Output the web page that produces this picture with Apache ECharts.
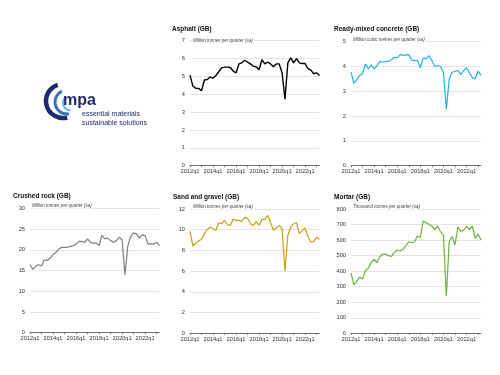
<!DOCTYPE html>
<html>
<head>
<meta charset="utf-8">
<script src="https://cdn.jsdelivr.net/npm/echarts@6/dist/echarts.min.js"></script>
<style>
  html, body { margin: 0; padding: 0; background: #fff; }
  #chart-container { width: 500px; height: 375px; }
</style>
</head>
<body>
<div id="chart-container"></div>
<script>
// quarters 2012q1 .. 2023q2
const quarters = [
  "2012q1", "2012q2", "2012q3", "2012q4", "2013q1", "2013q2", "2013q3", "2013q4",
  "2014q1", "2014q2", "2014q3", "2014q4", "2015q1", "2015q2", "2015q3", "2015q4",
  "2016q1", "2016q2", "2016q3", "2016q4", "2017q1", "2017q2", "2017q3", "2017q4",
  "2018q1", "2018q2", "2018q3", "2018q4", "2019q1", "2019q2", "2019q3", "2019q4",
  "2020q1", "2020q2", "2020q3", "2020q4", "2021q1", "2021q2", "2021q3", "2021q4",
  "2022q1", "2022q2", "2022q3", "2022q4", "2023q1", "2023q2"
];

const asphalt = [
  5.07, 4.46, 4.33, 4.33, 4.2, 4.8, 4.83, 4.96, 4.9, 5.05, 5.26, 5.48,
  5.52, 5.52, 5.5, 5.3, 5.2, 5.7, 5.76, 5.9, 5.8, 5.7, 5.57, 5.54,
  5.37, 5.94, 5.7, 5.8, 5.7, 5.54, 5.7, 5.7, 5.2, 3.72, 5.76, 6.04,
  5.76, 6.0, 5.76, 5.72, 5.72, 5.44, 5.35, 5.15, 5.2, 5.05
];

const readyMixed = [
  3.77, 3.33, 3.47, 3.64, 3.71, 4.1, 3.9, 4.07, 3.9, 4.04, 4.21, 4.17,
  4.21, 4.21, 4.27, 4.37, 4.35, 4.48, 4.45, 4.47, 4.48, 4.27, 4.24, 4.24,
  3.95, 4.35, 4.31, 4.44, 4.24, 4.0, 4.04, 4.0, 3.77, 2.27, 3.5, 3.77,
  3.81, 3.84, 3.68, 3.84, 3.95, 3.75, 3.55, 3.5, 3.81, 3.64
];

const crushedRock = [
  16.4, 15.3, 16.0, 16.4, 16.1, 17.6, 17.4, 18.0, 18.8, 19.4, 20.2, 20.6,
  20.6, 20.6, 20.8, 21.0, 21.4, 22.0, 22.0, 21.8, 22.6, 21.8, 21.6, 21.6,
  21.0, 23.5, 22.6, 22.8, 22.2, 21.8, 22.2, 23.0, 22.4, 14.0, 21.0, 23.2,
  24.0, 23.9, 22.8, 23.6, 23.4, 21.4, 21.4, 21.4, 21.8, 21.0
];

const sandGravel = [
  9.84, 8.43, 8.72, 8.91, 9.07, 9.62, 10.03, 10.26, 10.1, 9.94, 10.67, 10.58,
  10.9, 10.48, 10.42, 11.0, 10.9, 10.9, 10.8, 11.2, 11.1, 10.58, 10.42, 10.8,
  10.42, 11.0, 11.0, 11.38, 10.67, 9.94, 10.16, 10.42, 10.1, 6.0, 9.46, 10.26,
  10.58, 10.67, 9.62, 9.94, 10.16, 9.3, 8.81, 8.88, 9.3, 9.07
];

const mortar = [
  387, 313, 334, 362, 349, 404, 419, 455, 477, 455, 494, 509,
  509, 500, 494, 519, 536, 530, 540, 564, 589, 583, 589, 626,
  617, 723, 711, 702, 689, 668, 689, 653, 632, 238, 589, 621,
  568, 685, 657, 664, 689, 668, 689, 611, 638, 600
];

const panelNames = ["Asphalt (GB)", "Ready-mixed concrete (GB)", "Crushed rock (GB)", "Sand and gravel (GB)", "Mortar (GB)"];
const panelUnits = [
  "Million tonnes per quarter (sa)",
  "Million cubic metres per quarter (sa)",
  "Million tonnes per quarter (sa)",
  "Million tonnes per quarter (sa)",
  "Thousand tonnes per quarter (sa)"
];
const panelData = [asphalt, readyMixed, crushedRock, sandGravel, mortar];
const panelMax = [7, 5, 30, 12, 800];
const panelStep = [1, 1, 5, 2, 100];
const panelColors = ["#000000", "#1fb2ee", "#7f7f7f", "#c9a10f", "#6fb23a"];

// plot boxes, px
const boxes = [
  { left: 190, top: 40.7, width: 129.5, height: 125 },
  { left: 351, top: 41.7, width: 130, height: 124 },
  { left: 30, top: 208.3, width: 129.5, height: 124.4 },
  { left: 190, top: 209, width: 129.5, height: 124.3 },
  { left: 351, top: 209, width: 130, height: 124.3 }
];
const titlePos = [[172, 26], [334, 26], [13, 192.5], [173, 193.5], [334, 193.5]];
const unitPos = [[192, 38.5], [352, 37.5], [31, 203.5], [192, 204.5], [352, 204.5]];

var chartDom = document.getElementById("chart-container");
var myChart = echarts.init(chartDom);

const font = "Liberation Sans";

var titles = [];
var grids = [];
var xAxes = [];
var yAxes = [];
var series = [];

panelNames.forEach(function (name, i) {
  titles.push({
    text: name,
    left: titlePos[i][0], top: titlePos[i][1],
    padding: 0,
    textStyle: { fontFamily: font, fontSize: 6.5, fontWeight: "bold", color: "#111" }
  });
  titles.push({
    text: panelUnits[i],
    left: unitPos[i][0], top: unitPos[i][1],
    padding: [0, 1],
    backgroundColor: "#fff",
    textStyle: { fontFamily: font, fontSize: 4.5, fontStyle: "italic", fontWeight: "normal", color: "#444" }
  });
  grids.push(Object.assign({ containLabel: false }, boxes[i]));
  xAxes.push({
    type: "category",
    gridIndex: i,
    data: quarters,
    boundaryGap: false,
    axisLine: { lineStyle: { color: "#555", width: 0.8 } },
    axisTick: { interval: 3, length: 1.5, lineStyle: { color: "#555", width: 0.8 } },
    axisLabel: { interval: 7, fontFamily: font, fontSize: 5.7, color: "#333", margin: 3 }
  });
  yAxes.push({
    type: "value",
    gridIndex: i,
    min: 0,
    max: panelMax[i],
    interval: panelStep[i],
    axisLine: { show: false },
    axisTick: { show: false },
    splitLine: { lineStyle: { color: "#dcdcdc", width: 0.8 } },
    axisLabel: { fontFamily: font, fontSize: 5.7, color: "#333", margin: 5 }
  });
  series.push({
    type: "line",
    xAxisIndex: i,
    yAxisIndex: i,
    data: panelData[i],
    symbol: "none",
    lineStyle: { color: panelColors[i], width: i === 0 ? 1.4 : 1.2 },
    z: 1
  });
});

// mpa logo: three sweeping arcs + wordmark
const logo = [
  { type: "arc", shape: { cx: 63, cy: 101, r: 17, startAngle: Math.PI * 0.42, endAngle: Math.PI * 1.4 },
    style: { stroke: "#1d2b6b", lineWidth: 4.5, fill: null } },
  { type: "arc", shape: { cx: 67, cy: 102, r: 12, startAngle: Math.PI * 0.45, endAngle: Math.PI * 1.36 },
    style: { stroke: "#3d6fb6", lineWidth: 3, fill: null } },
  { type: "arc", shape: { cx: 70.5, cy: 103, r: 7.5, startAngle: Math.PI * 0.5, endAngle: Math.PI * 1.3 },
    style: { stroke: "#5cc0d9", lineWidth: 2, fill: null } },
  { type: "text", left: 63, top: 93, style: { text: "mpa", font: "bold 16px 'Liberation Sans'", fill: "#1d2b6b" } },
  { type: "text", left: 82, top: 111, style: { text: "essential materials", font: "7px 'Liberation Sans'", fill: "#1d2b6b" } },
  { type: "text", left: 82, top: 119.5, style: { text: "sustainable solutions", font: "7px 'Liberation Sans'", fill: "#1d2b6b" } }
];

var option = {
  backgroundColor: "#fff",
  animation: false,
  title: titles,
  grid: grids,
  xAxis: xAxes,
  yAxis: yAxes,
  series: series,
  graphic: logo
};

option && myChart.setOption(option);
</script>
</body>
</html>
